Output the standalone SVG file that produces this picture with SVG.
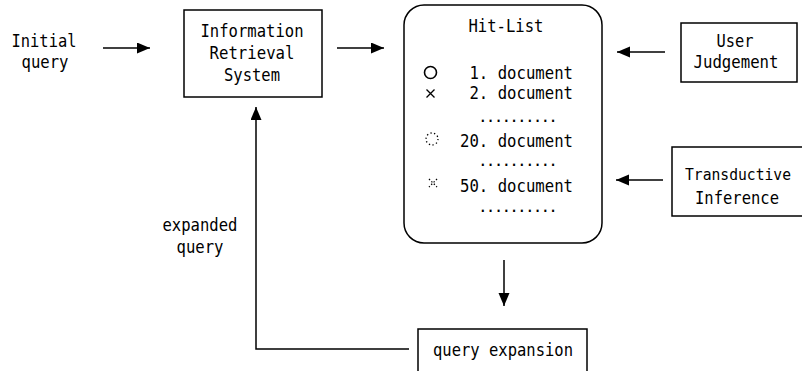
<svg xmlns="http://www.w3.org/2000/svg" width="802" height="371" viewBox="0 0 802 371">
<defs>
<style>
.t{font-family:"DejaVu Sans Mono","Liberation Mono",monospace;font-size:17.5px;fill:#000}
.m{text-anchor:middle}
.box{fill:#fff;stroke:#000;stroke-width:1.5}
.conn{fill:none;stroke:#000;stroke-width:1.5}
.dots{font-family:"DejaVu Sans Mono","Liberation Mono",monospace;font-size:16px;fill:#000}
</style>
<marker id="ah" markerUnits="userSpaceOnUse" markerWidth="15" markerHeight="12" refX="13" refY="5.5" orient="auto">
<path d="M0,0 L13,5.5 L0,11 Z" fill="#000"/>
</marker>
</defs>
<rect width="802" height="371" fill="#fff"/>

<g id="connectors">
<line class="conn" x1="103" y1="48" x2="150" y2="48" marker-end="url(#ah)"/>
<line class="conn" x1="337" y1="48" x2="384" y2="48" marker-end="url(#ah)"/>
<line class="conn" x1="665" y1="52" x2="617" y2="52" marker-end="url(#ah)"/>
<line class="conn" x1="663" y1="180" x2="616" y2="180" marker-end="url(#ah)"/>
<line class="conn" x1="504" y1="260" x2="504" y2="306" marker-end="url(#ah)"/>
<polyline class="conn" points="409,349 256,349 256,107" marker-end="url(#ah)"/>
</g>

<g id="initial-query">
<text class="t m" x="44" y="47" textLength="65" lengthAdjust="spacingAndGlyphs">Initial</text>
<text class="t m" x="45" y="68" textLength="47" lengthAdjust="spacingAndGlyphs">query</text>
</g>

<g id="ir-system">
<rect class="box" x="184" y="10" width="138" height="87"/>
<text class="t m" x="252" y="37" textLength="103" lengthAdjust="spacingAndGlyphs">Information</text>
<text class="t m" x="252" y="59" textLength="85" lengthAdjust="spacingAndGlyphs">Retrieval</text>
<text class="t m" x="252" y="81" textLength="56" lengthAdjust="spacingAndGlyphs">System</text>
</g>

<g id="hit-list">
<rect class="box" x="404" y="5" width="198" height="238" rx="20" ry="20"/>
<text class="t m" x="506" y="32" textLength="75" lengthAdjust="spacingAndGlyphs">Hit-List</text>
<circle cx="430.5" cy="72.5" r="6" fill="none" stroke="#000" stroke-width="1.6"/>
<path d="M426.5,89.5 L434.5,97.5 M434.5,89.5 L426.5,97.5" stroke="#000" stroke-width="1.3" fill="none"/>
<circle cx="432" cy="139" r="6" fill="none" stroke="#000" stroke-width="1.3" stroke-dasharray="1.3 2.4"/>
<path d="M429,179 L437,187 M437,179 L429,187" stroke="#000" stroke-width="1.3" fill="none" stroke-dasharray="1.4 2"/>
<text class="t" x="460" y="79" xml:space="preserve" textLength="113" lengthAdjust="spacingAndGlyphs"> 1. document</text>
<text class="t" x="460" y="99" xml:space="preserve" textLength="113" lengthAdjust="spacingAndGlyphs"> 2. document</text>
<text class="dots" x="478" y="122" textLength="80" lengthAdjust="spacing">..........</text>
<text class="t" x="460" y="147" textLength="113" lengthAdjust="spacingAndGlyphs">20. document</text>
<text class="dots" x="478" y="166" textLength="80" lengthAdjust="spacing">..........</text>
<text class="t" x="460" y="192" textLength="113" lengthAdjust="spacingAndGlyphs">50. document</text>
<text class="dots" x="478" y="212" textLength="80" lengthAdjust="spacing">..........</text>
</g>

<g id="user-judgement">
<rect class="box" x="681" y="23" width="116" height="59"/>
<text class="t m" x="735" y="47" textLength="37" lengthAdjust="spacingAndGlyphs">User</text>
<text class="t m" x="736" y="68" textLength="85" lengthAdjust="spacingAndGlyphs">Judgement</text>
</g>

<g id="transductive-inference">
<rect class="box" x="672" y="147" width="140" height="69"/>
<text class="t m" x="738" y="180" style="font-size:16px" textLength="106" lengthAdjust="spacingAndGlyphs">Transductive</text>
<text class="t m" x="737" y="204" textLength="84" lengthAdjust="spacingAndGlyphs">Inference</text>
</g>

<g id="expanded-query-label">
<text class="t m" x="200" y="231" textLength="75" lengthAdjust="spacingAndGlyphs">expanded</text>
<text class="t m" x="200" y="253" textLength="47" lengthAdjust="spacingAndGlyphs">query</text>
</g>

<g id="query-expansion">
<rect class="box" x="418" y="329" width="169" height="50"/>
<text class="t m" x="503" y="356" textLength="140" lengthAdjust="spacingAndGlyphs">query expansion</text>
</g>
</svg>
